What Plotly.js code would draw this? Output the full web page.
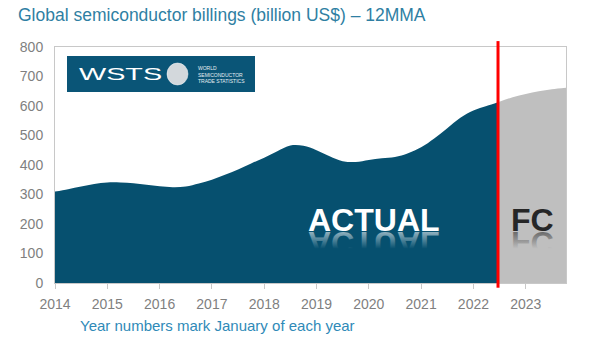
<!DOCTYPE html>
<html><head><meta charset="utf-8">
<script src="https://cdn.plot.ly/plotly-3.0.1.min.js"></script>
<style>body{margin:0;background:#fff}#chart{width:592px;height:344px}</style>
</head><body><div id="chart"></div>
<script>
// Actual 12MMA billings (billion US$), x = decimal year
const actualX = [2014.0,2014.25,2014.5,2014.75,2015.0,2015.25,2015.5,2015.75,2016.0,2016.25,2016.5,2016.75,2017.0,2017.25,2017.5,2017.75,2018.0,2018.25,2018.5,2018.75,2019.0,2019.25,2019.5,2019.75,2020.0,2020.25,2020.5,2020.75,2021.0,2021.25,2021.5,2021.75,2022.0,2022.25,2022.47];
const actualY = [310,318,327,336,341,341,338,333,328,325,327,337,350,367,385,405,425,447,466,465,450,430,413,410,417,423,427,440,460,490,525,560,585,600,613];
// Forecast
const fcX = [2022.47,2022.75,2023.0,2023.25,2023.5,2023.77];
const fcY = [613,630,641,650,657,662];
const yearTicks = [2014,2015,2016,2017,2018,2019,2020,2021,2022,2023];
const yTicks = [0,100,200,300,400,500,600,700,800];
const splitYear = 2022.47;

const font = 'Liberation Sans, Arial, sans-serif';
const blue = '#06506f';
const px = v => (v-55)/511, py = v => (283-v)/236;
const data = [
  {x: actualX, y: actualY, type:'scatter', mode:'lines', fill:'tozeroy',
   line:{color:blue, width:0, shape:'spline', smoothing:1}, fillcolor:blue, hoverinfo:'skip'},
  {x: fcX, y: fcY, type:'scatter', mode:'lines', fill:'tozeroy',
   line:{color:'#bfbfbf', width:0, shape:'spline', smoothing:1}, fillcolor:'#bfbfbf', hoverinfo:'skip'}
];
const bigText = (txt, x, color, y) => ({xref:'x', yref:'paper', x:x, y:py(y), xanchor:'center', yanchor:'middle',
  showarrow:false, text:'<b>'+txt+'</b>', font:{family:font, size:32, color:color}});
const layout = {
  width:592, height:344,
  margin:{l:55, r:26, t:47, b:61},
  paper_bgcolor:'#fff', plot_bgcolor:'#fff',
  showlegend:false,
  font:{family:font, color:'#7f7f7f', size:14},
  title:{text:'Global semiconductor billings (billion US$) – 12MMA', x:18/592, xanchor:'left', y:1-15/344, yanchor:'middle',
         font:{family:font, size:17.5, color:'#2f7fa3'}},
  xaxis:{range:[2014, 2023.77], tickvals:yearTicks, ticktext:yearTicks.map(String),
         showgrid:false, zeroline:false, showline:true, linecolor:'#c8c8c8', linewidth:1, mirror:true,
         ticks:'outside', ticklen:5, tickcolor:'#c8c8c8', ticklabelstandoff:3, tickfont:{family:font, size:14, color:'#7f7f7f'}},
  yaxis:{range:[0,800], tickvals:yTicks, showgrid:false, zeroline:false, showline:true, linecolor:'#c8c8c8',
         linewidth:1, mirror:true, ticks:'', ticklabelstandoff:8, tickfont:{family:font, size:14, color:'#7f7f7f'}},
  shapes:[
    {type:'line', xref:'x', yref:'paper', x0:splitYear, x1:splitYear, y0:-0.02, y1:1.025,
     line:{color:'#ff0000', width:3}},
    {type:'rect', xref:'paper', yref:'paper', x0:px(67), x1:px(255), y0:py(92), y1:py(56),
     fillcolor:'#0a5577', line:{width:0}},
    {type:'circle', xref:'paper', yref:'paper', x0:px(167), x1:px(188), y0:py(85), y1:py(63),
     fillcolor:'#d3d8dc', line:{color:'#ffffff', width:0.5}}
  ],
  annotations:[
    {xref:'paper', yref:'paper', x:px(77), y:py(74), xanchor:'left', yanchor:'middle', showarrow:false,
     text:'WSTS', font:{family:font, size:16, color:'#ffffff'}},
    {xref:'paper', yref:'paper', x:px(196), y:py(74.5), xanchor:'left', yanchor:'middle', showarrow:false,
     text:'WORLD<br>SEMICONDUCTOR<br>TRADE STATISTICS', align:'left',
     font:{family:font, size:5, color:'#e6eef2'}},
    bigText('ACTUAL', 2020.1, '#ffffff', 220),
    bigText('FC', 2023.13, '#262626', 220),
    bigText('ACTUAL', 2020.1, '#ffffff', 221),
    bigText('FC', 2023.13, '#262626', 221),
    {xref:'paper', yref:'paper', x:px(78), y:py(325), xanchor:'left', yanchor:'middle', showarrow:false,
     text:'Year numbers mark January of each year', font:{family:font, size:15, color:'#2f8ab8'}}
  ]
};
Plotly.newPlot('chart', data, layout, {staticPlot:true, displayModeBar:false}).then(gd => {
  const svg = gd.querySelector('svg.main-svg');
  const ns = 'http://www.w3.org/2000/svg';
  const defs = document.createElementNS(ns, 'defs');
  const mk = (id, col) => {
    const g = document.createElementNS(ns, 'linearGradient');
    g.setAttribute('id', id); g.setAttribute('x1','0'); g.setAttribute('y1','0'); g.setAttribute('x2','0'); g.setAttribute('y2','1');
    [[0,0],[0.35,0],[0.81,0.55],[1,0.55]].forEach(([o,a]) => {
      const s = document.createElementNS(ns, 'stop');
      s.setAttribute('offset', o); s.setAttribute('stop-color', col); s.setAttribute('stop-opacity', a);
      g.appendChild(s);
    });
    defs.appendChild(g);
  };
  mk('reflW', '#ffffff'); mk('reflD', '#262626');
  svg.insertBefore(defs, svg.firstChild);
  const texts = gd.querySelectorAll('.annotation-text');
  const wsts = texts[0];
  wsts.style.transformBox = 'fill-box'; wsts.style.transformOrigin = '0% 50%'; wsts.style.transform = 'scaleX(1.8)';
  [[4,'reflW'],[5,'reflD']].forEach(([i,id]) => {
    const t = texts[i];
    t.style.transformBox = 'fill-box'; t.style.transformOrigin = '50% 81%'; t.style.transform = 'scaleY(-1)';
    t.style.fill = 'url(#'+id+')';
    t.querySelectorAll('tspan').forEach(s => s.style.fill = 'url(#'+id+')');
  });
});
</script></body></html>
